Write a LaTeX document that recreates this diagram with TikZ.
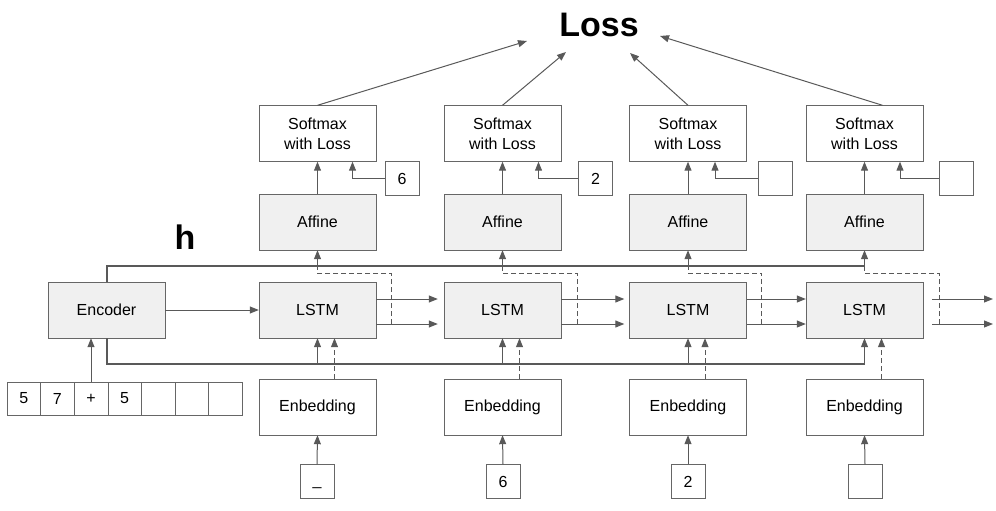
\documentclass[tikz,border=0pt]{standalone}
\usepackage{fontspec}
\setmainfont{Liberation Sans}
\usepackage{tikz}
\usetikzlibrary{positioning}
\usetikzlibrary{calc}
\usetikzlibrary{arrows.meta}

\begin{document}
\begin{tikzpicture}[x=1pt,y=-1pt]
\tikzstyle{grey} =[rectangle,draw=black!60,fill=black!6,minimum width=117pt,minimum height=56pt,inner sep=0pt,font=\fontsize{16}{20}\selectfont]
\tikzstyle{white} =[rectangle,draw=black!60,fill=white,minimum width=117pt,minimum height=56pt,inner sep=0pt,align=center,font=\fontsize{16}{20}\selectfont]
\tikzstyle{small} =[rectangle,draw=black!60,fill=white,minimum width=34pt,minimum height=34pt,inner sep=0pt,font=\fontsize{16}{20}\selectfont]
\tikzstyle{cell} =[rectangle,draw=black!60,fill=white,minimum width=33.6pt,minimum height=33pt,inner sep=0pt,font=\fontsize{16}{20}\selectfont]
\tikzstyle{arr} =[draw=black!65,line width=1pt,-{Triangle[length=9pt,width=7pt]}]
\tikzstyle{darr} =[draw=black!65,line width=1pt,dash pattern=on 5pt off 3pt,-{Triangle[length=9pt,width=7pt]}]
\tikzstyle{dline} =[draw=black!65,line width=1pt,dash pattern=on 5pt off 3pt]
\tikzstyle{hline} =[draw=black!65,line width=2pt]
\useasboundingbox (0,0) rectangle (996,511);

\node[anchor=base,font=\fontsize{34}{40}\selectfont\bfseries](loss) at (599,37){Loss};
\node[anchor=base,font=\fontsize{34}{40}\selectfont\bfseries](hlab) at (185,249){h};

\node[white](soft1) at (317.5,133.5){Softmax\\with Loss};
\node[white](soft2) at (502.5,133.5){Softmax\\with Loss};
\node[white](soft3) at (688,133.5){Softmax\\with Loss};
\node[white](soft4) at (864.5,133.5){Softmax\\with Loss};

\node[small](lab1) at (402,178.5){6};
\node[small](lab2) at (595.5,178.5){2};
\node[small](lab3) at (775,178.5){};
\node[small](lab4) at (956,178.5){};

\node[grey](aff1) at (317.5,222){Affine};
\node[grey](aff2) at (502.5,222){Affine};
\node[grey](aff3) at (688,222){Affine};
\node[grey](aff4) at (864.5,222){Affine};

\node[grey](enc) at (106.5,310){Encoder};
\node[grey](lstm1) at (317.5,310){LSTM};
\node[grey](lstm2) at (502.5,310){LSTM};
\node[grey](lstm3) at (688,310){LSTM};
\node[grey](lstm4) at (864.5,310){LSTM};

\node[white](emb1) at (317.5,407){Enbedding};
\node[white](emb2) at (502.5,407){Enbedding};
\node[white](emb3) at (688,407){Enbedding};
\node[white](emb4) at (864.5,407){Enbedding};

\node[small](in1) at (317,481.5){\char`\_\vphantom{6}};
\node[small](in2) at (503,481.5){6};
\node[small](in3) at (688,481.5){2};
\node[small](in4) at (865,481.5){};

\node[cell](cell1) at (23.8,398.5){5};
\node[cell](cell2) at (57.4,398.5){7};
\node[cell](cell3) at (91,398.5){+};
\node[cell](cell4) at (124.6,398.5){5};
\node[cell](cell5) at (158.2,398.5){};
\node[cell](cell6) at (191.8,398.5){};
\node[cell](cell7) at (225.4,398.5){};

% ends round the loss text
\coordinate (l1) at (527,41);
\coordinate (l2) at (566,52);
\coordinate (l3) at (630,53);
\coordinate (l4) at (660,36);
\draw[arr] (soft1.north)--(l1);
\draw[arr] (soft2.north)--(l2);
\draw[arr] (soft3.north)--(l3);
\draw[arr] ([xshift=18pt]soft4.north)--(l4);

\draw[arr] (aff1.north)--(soft1.south);
\draw[arr] (aff2.north)--(soft2.south);
\draw[arr] (aff3.north)--(soft3.south);
\draw[arr] (aff4.north)--(soft4.south);

\draw[arr] (lab1.west) -| ($(soft1.south)+(35,0)$);
\draw[arr] (lab2.west) -| ($(soft2.south)+(36,0)$);
\draw[arr] (lab3.west) -| ($(soft3.south)+(27,0)$);
\draw[arr] (lab4.west) -| ($(soft4.south)+(35.5,0)$);

% h lines
\coordinate (htop) at (0,266);
\coordinate (hbot) at (0,364);
\draw[hline] (enc.north) |- (aff4.south |- htop);
\draw[hline] (enc.south) |- (lstm4.south |- hbot);
\draw[arr] (aff1.south |- htop)--(aff1.south);
\draw[arr] (aff2.south |- htop)--(aff2.south);
\draw[arr] (aff3.south |- htop)--(aff3.south);
\draw[arr] (aff4.south |- htop)--(aff4.south);
\draw[arr] (lstm1.south |- hbot)--(lstm1.south);
\draw[arr] (lstm2.south |- hbot)--(lstm2.south);
\draw[arr] (lstm3.south |- hbot)--(lstm3.south);
\draw[arr] (lstm4.south |- hbot)--(lstm4.south);

% hidden state to affine
\draw[dline] ($(lstm1.east)+(15,14)$) |- ($(aff1.south)+(0,23)$) -- (aff1.south |- htop);
\draw[dline] ($(lstm2.east)+(16,14)$) |- ($(aff2.south)+(0,23)$) -- (aff2.south |- htop);
\draw[dline] ($(lstm3.east)+(15,14)$) |- ($(aff3.south)+(0,23)$) -- (aff3.south |- htop);
\draw[dline] ($(lstm4.east)+(16,14)$) |- ($(aff4.south)+(0,23)$) -- (aff4.south |- htop);

\draw[arr] (enc.east)--(lstm1.west);
\draw[arr] ($(lstm1.east)+(0,-11)$)--($(lstm2.west)+(-6,-11)$);
\draw[arr] ($(lstm1.east)+(0,14)$)--($(lstm2.west)+(-6,14)$);
\draw[arr] ($(lstm2.east)+(0,-11)$)--($(lstm3.west)+(-5,-11)$);
\draw[arr] ($(lstm2.east)+(0,14)$)--($(lstm3.west)+(-5,14)$);
\draw[arr] ($(lstm3.east)+(0,-11)$)--($(lstm4.west)+(0,-11)$);
\draw[arr] ($(lstm3.east)+(0,14)$)--($(lstm4.west)+(0,14)$);
\coordinate (out1) at (993,299);
\coordinate (out2) at (993,324);
\draw[arr] ($(lstm4.east)+(9,-11)$)--(out1);
\draw[arr] ($(lstm4.east)+(9,14)$)--(out2);

\draw[darr] ($(emb1.north)+(17,0)$)--($(lstm1.south)+(17,0)$);
\draw[darr] ($(emb2.north)+(17,0)$)--($(lstm2.south)+(17,0)$);
\draw[darr] ($(emb3.north)+(17,0)$)--($(lstm3.south)+(17,0)$);
\draw[darr] ($(emb4.north)+(17,0)$)--($(lstm4.south)+(17,0)$);

\draw[arr] (in1.north)--(emb1.south);
\draw[arr] (in2.north)--(emb2.south);
\draw[arr] (in3.north)--(emb3.south);
\draw[arr] (in4.north)--(emb4.south);

\draw[arr] (cell3.north)--(cell3.north |- enc.south);
\end{tikzpicture}
\end{document}
